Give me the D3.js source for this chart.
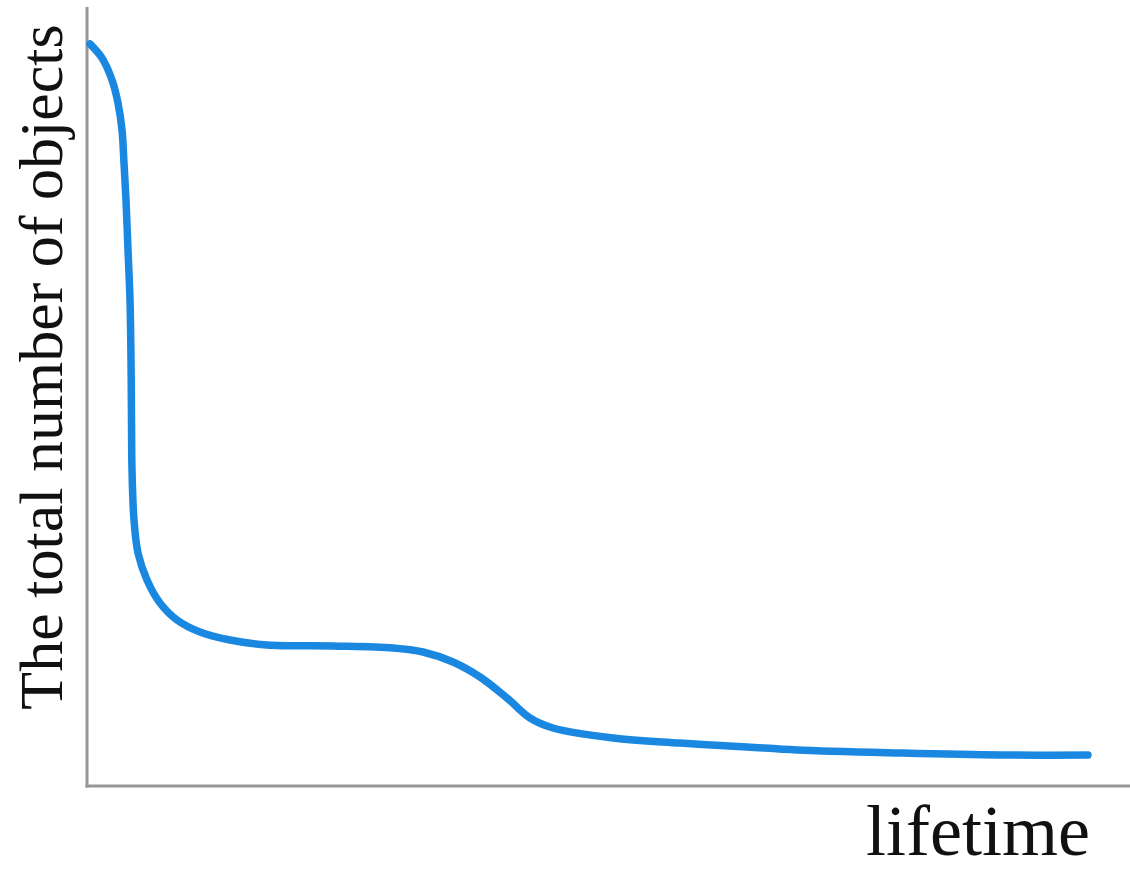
<!DOCTYPE html>
<html>
<head>
<meta charset="utf-8">
<script src="https://cdn.jsdelivr.net/npm/d3@7"></script>
<style>
html,body{margin:0;padding:0;background:#fff;}
svg{display:block;}
</style>
</head>
<body>
<svg id="chart" width="1130" height="872"></svg>
<script>
// lifetime (arbitrary units) and total number of objects (arbitrary units)
const lifetime = [2, 14, 24, 30, 34, 36, 38, 40, 42, 43, 43.5, 44, 46, 50, 59, 72, 89, 112, 142, 179, 245, 305, 335, 365, 392, 419, 442, 465, 525, 592, 659, 709, 812, 912, 1000];
const objects  = [742, 728, 706, 683, 656, 623, 586, 536, 486, 426, 366, 316, 266, 233, 206, 183, 166, 154, 146, 141, 140, 138, 134, 124, 109, 88, 68, 58, 48, 43, 39, 36, 33, 31, 31];
const xLabel = "lifetime";
const yLabel = "The total number of objects";

const svg = d3.select("#chart");
const x = d3.scaleLinear().domain([0, 1000]).range([88, 1088]);
const y = d3.scaleLinear().domain([0, 780]).range([786, 6]);

const data = lifetime.map((d, i) => [d, objects[i]]);

// axes
svg.append("line")
  .attr("x1", 87).attr("x2", 87).attr("y1", 7).attr("y2", 787.5)
  .attr("stroke", "#979797").attr("stroke-width", 3);
svg.append("line")
  .attr("x1", 85.5).attr("x2", 1130).attr("y1", 786).attr("y2", 786)
  .attr("stroke", "#979797").attr("stroke-width", 3);

// curve
const line = d3.line()
  .x(d => x(d[0])).y(d => y(d[1]))
  .curve(d3.curveCatmullRom.alpha(0.5));
svg.append("path")
  .datum(data)
  .attr("d", line)
  .attr("fill", "none")
  .attr("stroke", "#1a88e0")
  .attr("stroke-width", 7.5)
  .attr("stroke-linecap", "round")
  .attr("stroke-linejoin", "round");

// labels
svg.append("text")
  .attr("x", 1090).attr("y", 855)
  .attr("text-anchor", "end")
  .attr("font-family", "'Liberation Serif', 'DejaVu Serif', serif")
  .attr("font-size", 72)
  .attr("fill", "#111")
  .text(xLabel);
svg.append("text")
  .attr("transform", "translate(62,367) rotate(-90)")
  .attr("text-anchor", "middle")
  .attr("font-family", "'Liberation Serif', 'DejaVu Serif', serif")
  .attr("font-size", 62)
  .attr("fill", "#111")
  .text(yLabel);
</script>
</body>
</html>
